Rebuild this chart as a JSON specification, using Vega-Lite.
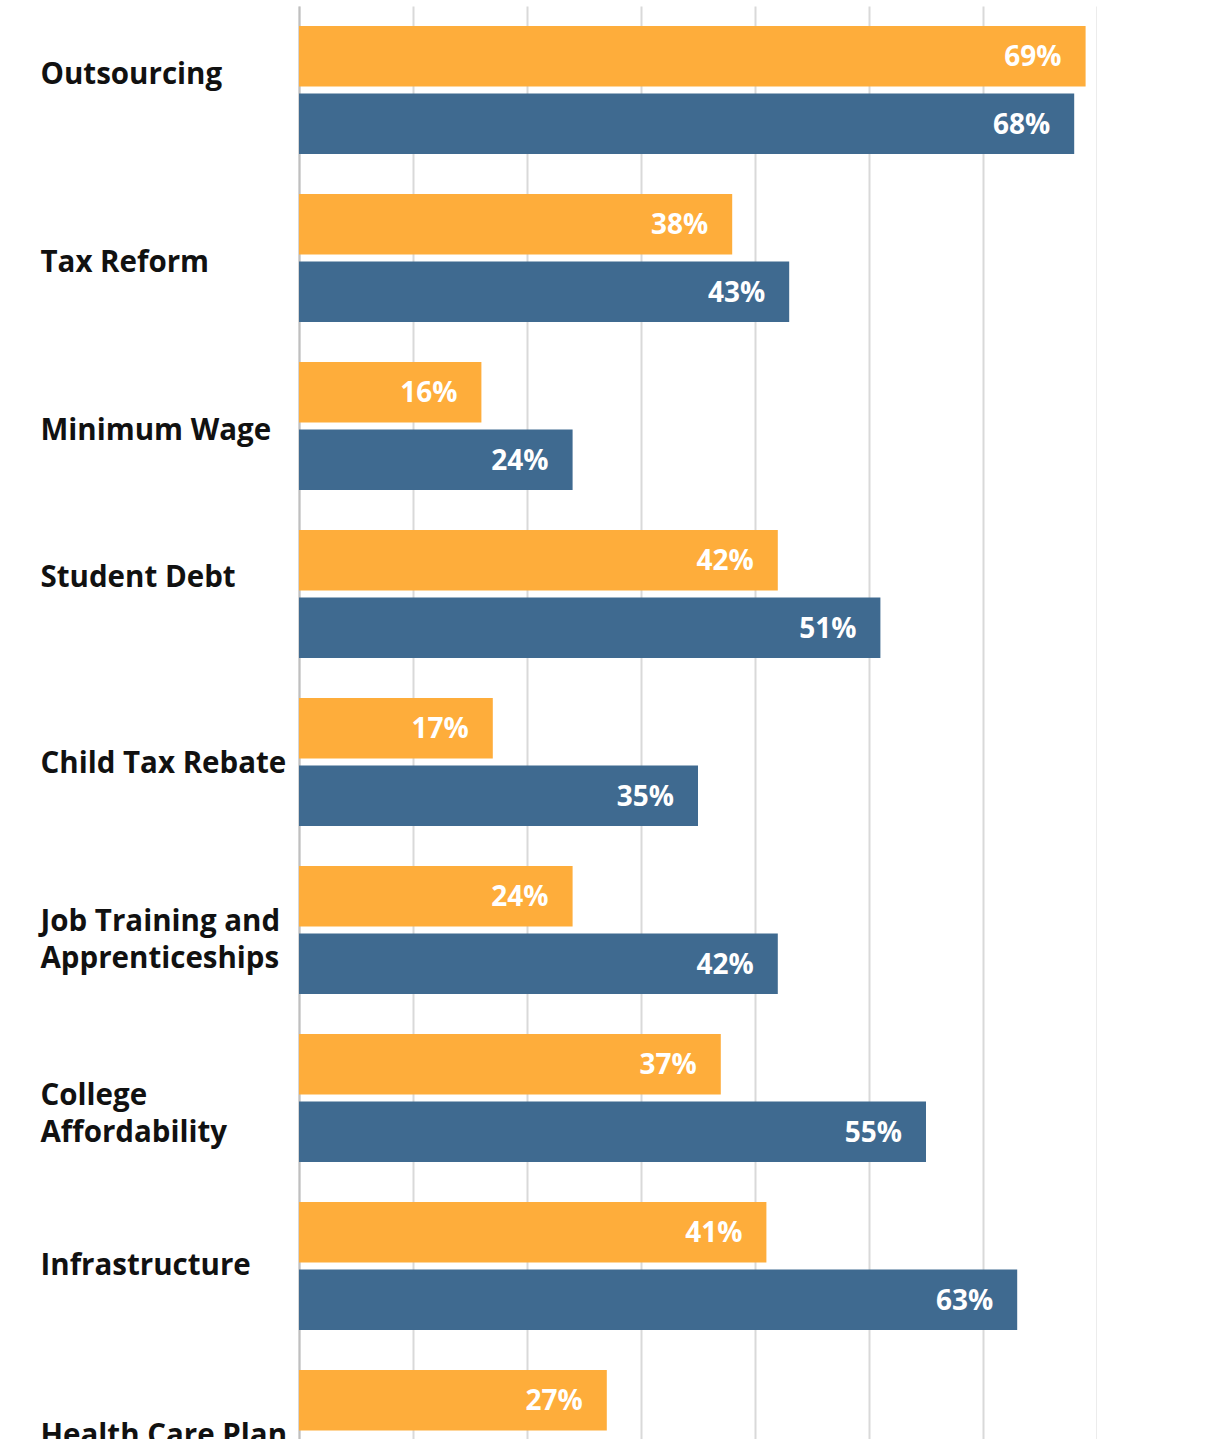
{
  "$schema": "https://vega.github.io/schema/vega-lite/v6.json",
  "width": 798,
  "height": 1512,
  "padding": {"left": 40, "top": 6, "right": 0, "bottom": 0},
  "background": "white",
  "config": {"view": {"stroke": null}},
  "data": {
    "values": [
      {"issue": "Outsourcing", "group": "Group 1", "share": 0.69},
      {"issue": "Outsourcing", "group": "Group 2", "share": 0.68},
      {"issue": "Tax Reform", "group": "Group 1", "share": 0.38},
      {"issue": "Tax Reform", "group": "Group 2", "share": 0.43},
      {"issue": "Minimum Wage", "group": "Group 1", "share": 0.16},
      {"issue": "Minimum Wage", "group": "Group 2", "share": 0.24},
      {"issue": "Student Debt", "group": "Group 1", "share": 0.42},
      {"issue": "Student Debt", "group": "Group 2", "share": 0.51},
      {"issue": "Child Tax Rebate", "group": "Group 1", "share": 0.17},
      {"issue": "Child Tax Rebate", "group": "Group 2", "share": 0.35},
      {"issue": "Job Training and Apprenticeships", "group": "Group 1", "share": 0.24},
      {"issue": "Job Training and Apprenticeships", "group": "Group 2", "share": 0.42},
      {"issue": "College Affordability", "group": "Group 1", "share": 0.37},
      {"issue": "College Affordability", "group": "Group 2", "share": 0.55},
      {"issue": "Infrastructure", "group": "Group 1", "share": 0.41},
      {"issue": "Infrastructure", "group": "Group 2", "share": 0.63},
      {"issue": "Health Care Plan", "group": "Group 1", "share": 0.27}
    ]
  },
  "encoding": {
    "y": {
      "field": "issue",
      "type": "nominal",
      "sort": null,
      "scale": {"paddingInner": 0.238, "paddingOuter": 0.119},
      "axis": {
        "title": null,
        "ticks": false,
        "domain": true,
        "domainColor": "#BFBFBF",
        "domainWidth": 2,
        "labelAlign": "left",
        "labelPadding": 259,
        "labelFont": "Open Sans",
        "labelFontWeight": "bold",
        "labelFontSize": 29.5,
        "labelColor": "#111111",
        "labelLineHeight": 37,
        "labelLimit": 400,
        "labelExpr": "datum.value == 'Job Training and Apprenticeships' ? ['Job Training and', 'Apprenticeships'] : datum.value == 'College Affordability' ? ['College', 'Affordability'] : datum.value",
        "labelOffset": {
          "condition": [
            {"test": "datum.value == 'Outsourcing'", "value": -15},
            {"test": "datum.value == 'Student Debt'", "value": -16},
            {"test": "datum.value == 'Job Training and Apprenticeships'", "value": -8},
            {"test": "datum.value == 'College Affordability'", "value": -2},
            {"test": "datum.value == 'Tax Reform'", "value": 5},
            {"test": "datum.value == 'Minimum Wage'", "value": 5},
            {"test": "datum.value == 'Infrastructure'", "value": 0}
          ],
          "value": 2
        }
      }
    },
    "yOffset": {
      "field": "group",
      "type": "nominal",
      "scale": {"paddingInner": 0.104, "paddingOuter": 0}
    },
    "x": {
      "field": "share",
      "type": "quantitative",
      "scale": {"domain": [0, 0.7], "nice": false},
      "axis": {
        "title": null,
        "labels": false,
        "ticks": false,
        "domain": false,
        "grid": true,
        "gridColor": "#D9D9D9",
        "gridWidth": 2,
        "values": [0, 0.1, 0.2, 0.3, 0.4, 0.5, 0.6, 0.7]
      }
    }
  },
  "layer": [
    {
      "mark": {"type": "bar"},
      "encoding": {
        "color": {
          "field": "group",
          "type": "nominal",
          "scale": {"domain": ["Group 1", "Group 2"], "range": ["#FEAD3B", "#3F6A90"]},
          "legend": null
        }
      }
    },
    {
      "mark": {
        "type": "text",
        "align": "right",
        "baseline": "middle",
        "dx": -24,
        "dy": 2,
        "color": "white",
        "font": "Open Sans",
        "fontWeight": "bold",
        "fontSize": 28
      },
      "encoding": {
        "text": {"field": "share", "type": "quantitative", "format": ".0%"}
      }
    }
  ]
}
